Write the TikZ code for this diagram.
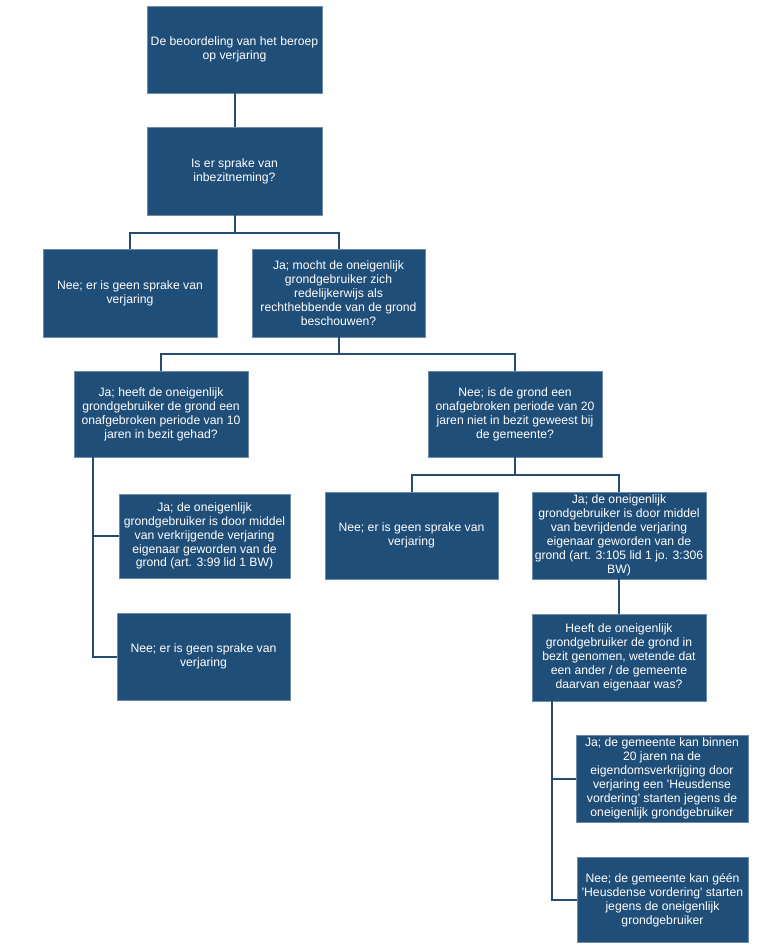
\documentclass[tikz,border=0pt]{standalone}
\usepackage{fontspec}
\setmainfont{Liberation Sans}
\definecolor{boxblue}{RGB}{31,78,121}
\definecolor{boxedge}{RGB}{110,140,170}
\definecolor{linkblue}{RGB}{38,76,112}
\begin{document}
\begin{tikzpicture}[x=1pt,y=-1pt,
  box/.style={draw=boxedge, line width=0.6pt, fill=boxblue, text=white,
    minimum width=174pt, minimum height=87pt, inner sep=0pt, align=center,
    font=\fontsize{12.2}{13.9}\selectfont},
  link/.style={draw=linkblue, line width=2pt}]
\fill[white] (0,0) rectangle (756,949);
\useasboundingbox (0,0) rectangle (756,949);

\node[box, minimum width=175pt] (b1) at (234.5,49.5) {De beoordeling van het beroep\\op verjaring};
\node[box, minimum width=175pt, minimum height=88pt] (b2) at (234.5,171) {Is er sprake van\\inbezitneming?};
\node[box, minimum height=88pt] (b3) at (130,293) {Nee; er is geen sprake van\\verjaring};
\node[box, minimum width=173pt, minimum height=88pt] (b4) at (338.5,293) {Ja; mocht de oneigenlijk\\grondgebruiker zich\\redelijkerwijs als\\rechthebbende van de grond\\beschouwen?};
\node[box, minimum height=86pt] (b5) at (161,414) {Ja; heeft de oneigenlijk\\grondgebruiker de grond een\\onafgebroken periode van 10\\jaren in bezit gehad?};
\node[box, minimum height=86pt] (b6) at (515,414) {Nee; is de grond een\\onafgebroken periode van 20\\jaren niet in bezit geweest bij\\de gemeente?};
\node[box, minimum width=171pt, minimum height=84pt] (b7) at (204.5,536) {Ja; de oneigenlijk\\grondgebruiker is door middel\\van verkrijgende verjaring\\eigenaar geworden van de\\grond (art. 3:99 lid 1 BW)};
\node[box, minimum width=173pt] (b8) at (203.5,656.5) {Nee; er is geen sprake van\\verjaring};
\node[box, minimum width=173pt] (b9) at (411.5,535.5) {Nee; er is geen sprake van\\verjaring};
\node[box] (b10) at (619,535.5) {Ja; de oneigenlijk\\grondgebruiker is door middel\\van bevrijdende verjaring\\eigenaar geworden van de\\grond (art. 3:105 lid 1 jo. 3:306\\BW)};
\node[box] (b11) at (619,657.5) {Heeft de oneigenlijk\\grondgebruiker de grond in\\bezit genomen, wetende dat\\een ander / de gemeente\\daarvan eigenaar was?};
\node[box, minimum width=172pt] (b12) at (662,778.5) {Ja; de gemeente kan binnen\\20 jaren na de\\eigendomsverkrijging door\\verjaring een \textquotesingle Heusdense\\vordering\textquotesingle\ starten jegens de\\oneigenlijk grondgebruiker};
\node[box, minimum width=171pt, minimum height=85pt] (b13) at (662.5,900) {Nee; de gemeente kan géén\\\textquotesingle Heusdense vordering\textquotesingle\ starten\\jegens de oneigenlijk\\grondgebruiker};

\coordinate (j1) at (234.5,233);
\coordinate (j2) at (338.5,354);
\coordinate (j3) at (515,475);

\draw[link] (b1.south) -- (b2.north);
\draw[link] (b2.south) -- (j1);
\draw[link] (b3.north) |- (j1) -| (b4.north);
\draw[link] (b4.south) -- (j2);
\draw[link] (b5.north) |- (j2) -| (b6.north);
\draw[link] ([xshift=19pt]b5.south west) |- (b7.west);
\draw[link] ([xshift=19pt]b5.south west) |- (b8.west);
\draw[link] (b6.south) -- (j3);
\draw[link] (b9.north) |- (j3) -| (b10.north);
\draw[link] (b10.south) -- (b11.north);
\draw[link] ([xshift=20pt]b11.south west) |- (b12.west);
\draw[link] ([xshift=20pt]b11.south west) |- (b13.west);
\end{tikzpicture}
\end{document}
